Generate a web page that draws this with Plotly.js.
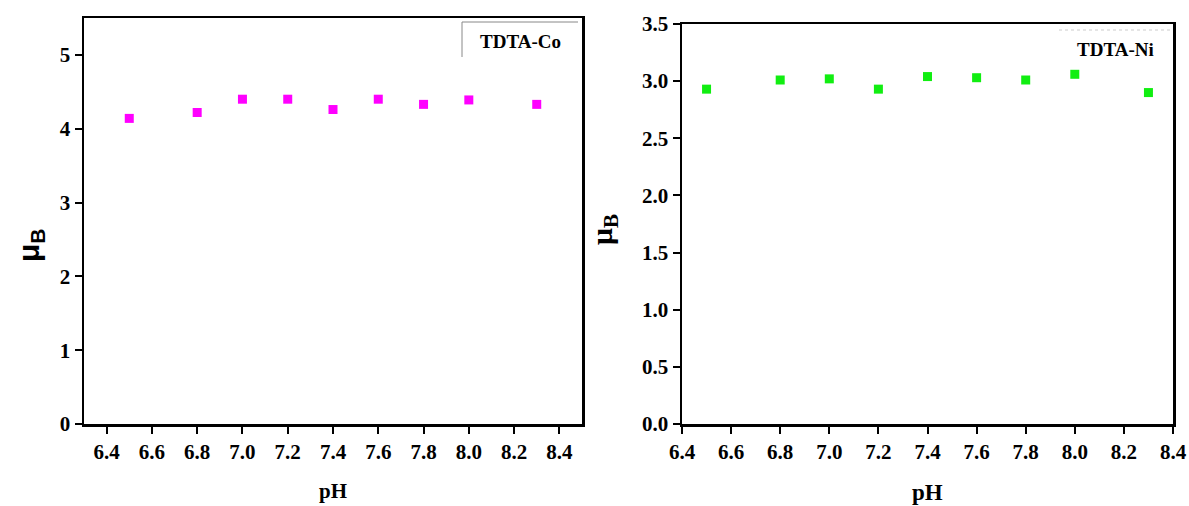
<!DOCTYPE html>
<html><head><meta charset="utf-8">
<script src="https://cdn.plot.ly/plotly-3.0.1.min.js"></script>
<style>html,body{margin:0;padding:0;background:#fff}#chart{width:1189px;height:506px}</style>
</head><body><div id="chart"></div>
<script>
const pH = [6.5, 6.8, 7.0, 7.2, 7.4, 7.6, 7.8, 8.0, 8.3];
const muCo = [4.14, 4.22, 4.40, 4.40, 4.26, 4.40, 4.33, 4.39, 4.33];
const muNi = [2.93, 3.01, 3.02, 2.93, 3.04, 3.03, 3.01, 3.06, 2.90];
const xTicks = [6.4, 6.6, 6.8, 7.0, 7.2, 7.4, 7.6, 7.8, 8.0, 8.2, 8.4];
const yTicksCo = [0, 1, 2, 3, 4, 5];
const yTicksNi = [0, 0.5, 1.0, 1.5, 2.0, 2.5, 3.0, 3.5];

const W = 1189, H = 506;
const serif = '"Liberation Serif", "Times New Roman", serif';
function tf() { return {family: serif, size: 21, color: '#000', weight: 'bold'}; }

const traces = [
  {x: pH, y: muCo, xaxis: 'x', yaxis: 'y', type: 'scatter', mode: 'markers',
   marker: {symbol: 'square', size: 9, color: '#ff00ff'}, name: 'TDTA-Co'},
  {x: pH, y: muNi, xaxis: 'x2', yaxis: 'y2', type: 'scatter', mode: 'markers',
   marker: {symbol: 'square', size: 9, color: '#11ee11'}, name: 'TDTA-Ni'}
];

function xa(domain, range) {
  return {domain: domain, range: range, tickmode: 'array', tickvals: xTicks, ticktext: xTicks.map(v => v.toFixed(1)),
    ticks: 'outside', ticklen: 7, tickwidth: 2, tickcolor: '#000', showgrid: false, zeroline: false,
    showline: true, linewidth: 2.5, linecolor: '#000', mirror: true, tickfont: tf(), fixedrange: true};
}
function ya(domain, range, vals, fmt) {
  return {domain: domain, range: range, tickmode: 'array', tickvals: vals, ticktext: vals.map(fmt),
    ticks: 'outside', ticklen: 7, tickwidth: 2, tickcolor: '#000', showgrid: false, zeroline: false,
    showline: true, linewidth: 2.5, linecolor: '#000', mirror: true, tickfont: tf(), fixedrange: true};
}

const layout = {
  width: W, height: H, margin: {l: 0, r: 0, t: 0, b: 0},
  font: {family: serif, color: '#000'},
  paper_bgcolor: '#fff', plot_bgcolor: '#fff', showlegend: false,
  xaxis: xa([84 / W, 582 / W], [6.3, 8.5]),
  yaxis: ya([(H - 424) / H, (H - 18) / H], [0, 5.5], yTicksCo, v => String(v)),
  xaxis2: Object.assign(xa([682 / W, 1173 / W], [6.4, 8.4]), {anchor: 'y2'}),
  yaxis2: Object.assign(ya([(H - 424) / H, (H - 24) / H], [0, 3.5], yTicksNi, v => v.toFixed(1)), {anchor: 'x2'}),
  annotations: [
    {xref: 'paper', yref: 'paper', x: 333 / W, y: (H - 491) / H, text: '<b>pH</b>', showarrow: false,
     font: {family: serif, size: 21, color: '#000'}, xanchor: 'center', yanchor: 'middle'},
    {xref: 'paper', yref: 'paper', x: 927 / W, y: (H - 492) / H, text: '<b>pH</b>', showarrow: false,
     font: {family: serif, size: 23, color: '#000'}, xanchor: 'center', yanchor: 'middle'},
    {xref: 'paper', yref: 'paper', x: 30 / W, y: (H - 245) / H, text: '<b>μ<sub>B</sub></b>', showarrow: false,
     textangle: -90, font: {family: '"Liberation Sans", Arial, sans-serif', size: 30, color: '#000'},
     xanchor: 'center', yanchor: 'middle'},
    {xref: 'paper', yref: 'paper', x: 604 / W, y: (H - 230) / H, text: '<b>μ<sub>B</sub></b>', showarrow: false,
     textangle: -90, font: {family: serif, size: 30, color: '#000'}, xanchor: 'center', yanchor: 'middle'},
    {xref: 'paper', yref: 'paper', x: 520 / W, y: (H - 42) / H, text: '<b>TDTA-Co</b>', showarrow: false,
     font: {family: serif, size: 19, color: '#000'}, xanchor: 'center', yanchor: 'middle'},
    {xref: 'paper', yref: 'paper', x: 1115 / W, y: (H - 50) / H, text: '<b>TDTA-Ni</b>', showarrow: false,
     font: {family: serif, size: 19, color: '#000'}, xanchor: 'center', yanchor: 'middle'}
  ],
  shapes: [
    {type: 'line', xref: 'paper', yref: 'paper', x0: 462 / W, x1: 462 / W, y0: (H - 22) / H, y1: (H - 57) / H,
     line: {color: '#888', width: 1}},
    {type: 'line', xref: 'paper', yref: 'paper', x0: 462 / W, x1: 578 / W, y0: (H - 22) / H, y1: (H - 22) / H,
     line: {color: '#888', width: 1}},
    {type: 'line', xref: 'paper', yref: 'paper', x0: 1059 / W, x1: 1170 / W, y0: (H - 30) / H, y1: (H - 30) / H,
     line: {color: '#ccc', width: 1, dash: 'dot'}}
  ]
};

Plotly.newPlot('chart', traces, layout, {displayModeBar: false, staticPlot: true});
</script></body></html>
